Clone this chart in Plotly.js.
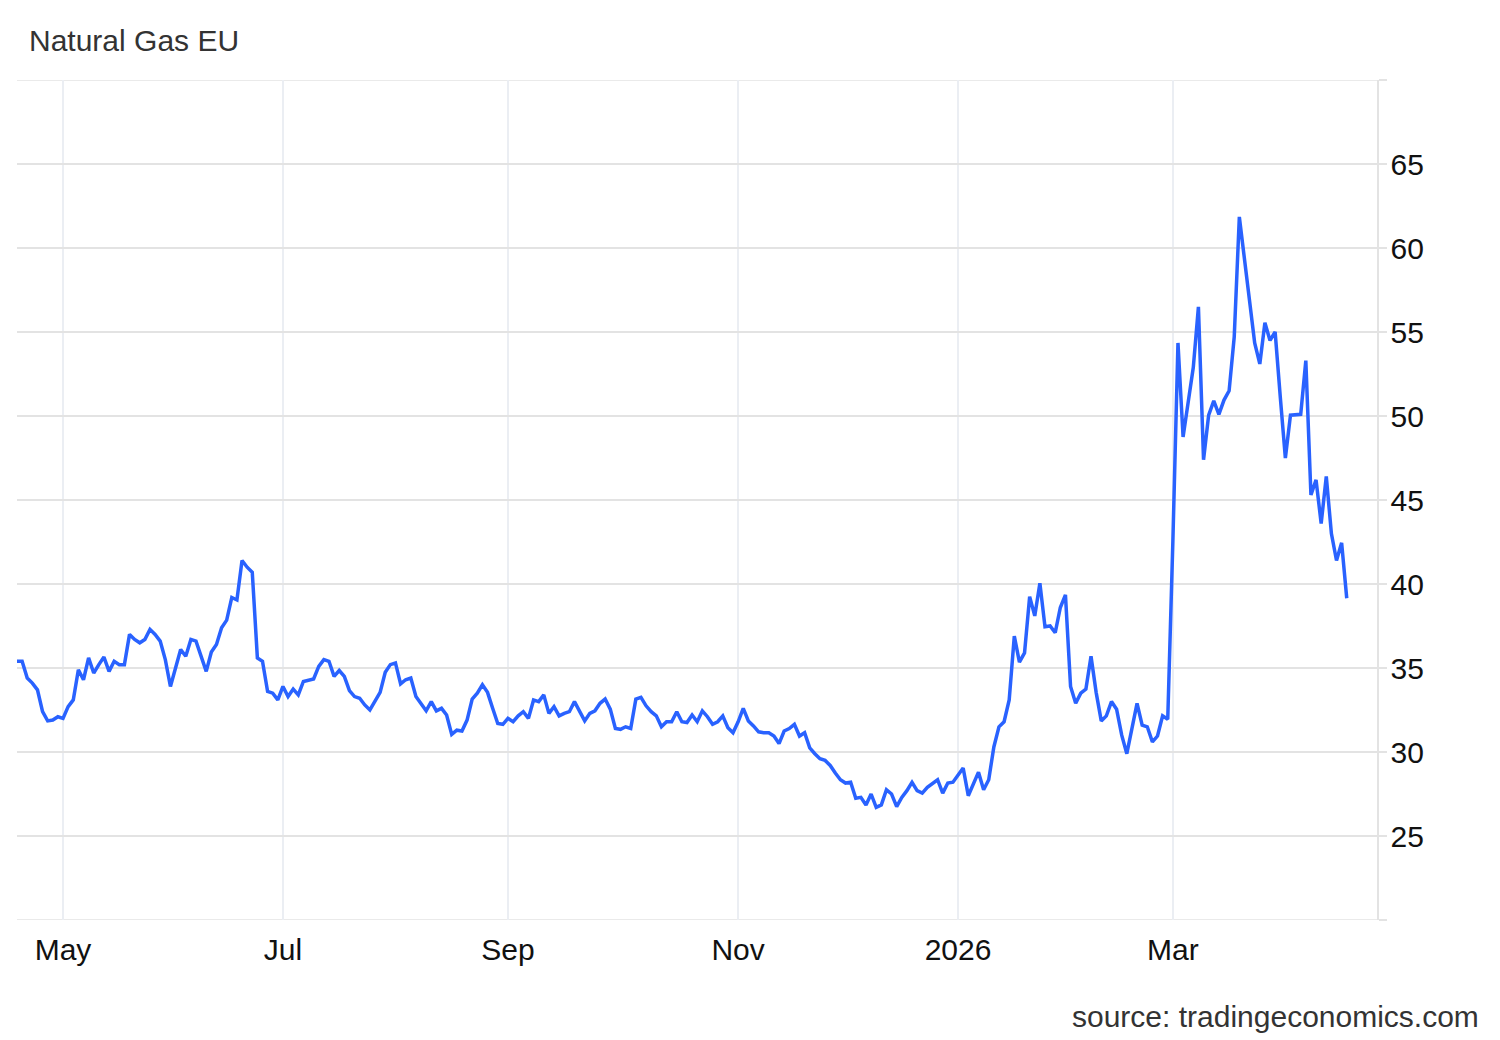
<!DOCTYPE html>
<html>
<head>
<meta charset="utf-8">
<script src="https://cdn.plot.ly/plotly-3.0.1.min.js"></script>
<style>
  html, body { margin: 0; padding: 0; background: #ffffff; }
  #chart { width: 1500px; height: 1040px; }
</style>
</head>
<body>
<div id="chart"></div>
<script>
// Trading days (weekdays)
const dates = [
  // Apr 2025
  '2025-04-18','2025-04-21','2025-04-22','2025-04-23','2025-04-24','2025-04-25','2025-04-28','2025-04-29','2025-04-30',
  // May
  '2025-05-01','2025-05-02','2025-05-05','2025-05-06','2025-05-07','2025-05-08','2025-05-09','2025-05-12','2025-05-13','2025-05-14','2025-05-15','2025-05-16','2025-05-19','2025-05-20','2025-05-21','2025-05-22','2025-05-23','2025-05-26','2025-05-27','2025-05-28','2025-05-29','2025-05-30',
  // Jun
  '2025-06-02','2025-06-03','2025-06-04','2025-06-05','2025-06-06','2025-06-09','2025-06-10','2025-06-11','2025-06-12','2025-06-13','2025-06-16','2025-06-17','2025-06-18','2025-06-19','2025-06-20','2025-06-23','2025-06-24','2025-06-25','2025-06-26','2025-06-27','2025-06-30',
  // Jul
  '2025-07-01','2025-07-02','2025-07-03','2025-07-04','2025-07-07','2025-07-08','2025-07-09','2025-07-10','2025-07-11','2025-07-14','2025-07-15','2025-07-16','2025-07-17','2025-07-18','2025-07-21','2025-07-22','2025-07-23','2025-07-24','2025-07-25','2025-07-28','2025-07-29','2025-07-30','2025-07-31',
  // Aug
  '2025-08-01','2025-08-04','2025-08-05','2025-08-06','2025-08-07','2025-08-08','2025-08-11','2025-08-12','2025-08-13','2025-08-14','2025-08-15','2025-08-18','2025-08-19','2025-08-20','2025-08-21','2025-08-22','2025-08-25','2025-08-26','2025-08-27','2025-08-28','2025-08-29',
  // Sep
  '2025-09-01','2025-09-02','2025-09-03','2025-09-04','2025-09-05','2025-09-08','2025-09-09','2025-09-10','2025-09-11','2025-09-12','2025-09-15','2025-09-16','2025-09-17','2025-09-18','2025-09-19','2025-09-22','2025-09-23','2025-09-24','2025-09-25','2025-09-26','2025-09-29','2025-09-30',
  // Oct
  '2025-10-01','2025-10-02','2025-10-03','2025-10-06','2025-10-07','2025-10-08','2025-10-09','2025-10-10','2025-10-13','2025-10-14','2025-10-15','2025-10-16','2025-10-17','2025-10-20','2025-10-21','2025-10-22','2025-10-23','2025-10-24','2025-10-27','2025-10-28','2025-10-29','2025-10-30','2025-10-31',
  // Nov
  '2025-11-03','2025-11-04','2025-11-05','2025-11-06','2025-11-07','2025-11-10','2025-11-11','2025-11-12','2025-11-13','2025-11-14','2025-11-17','2025-11-18','2025-11-19','2025-11-20','2025-11-21','2025-11-24','2025-11-25','2025-11-26','2025-11-27','2025-11-28',
  // Dec
  '2025-12-01','2025-12-02','2025-12-03','2025-12-04','2025-12-05','2025-12-08','2025-12-09','2025-12-10','2025-12-11','2025-12-12','2025-12-15','2025-12-16','2025-12-17','2025-12-18','2025-12-19','2025-12-22','2025-12-23','2025-12-24','2025-12-25','2025-12-26','2025-12-29','2025-12-30','2025-12-31',
  // Jan 2026
  '2026-01-02','2026-01-05','2026-01-06','2026-01-07','2026-01-08','2026-01-09','2026-01-12','2026-01-13','2026-01-14','2026-01-15','2026-01-16','2026-01-19','2026-01-20','2026-01-21','2026-01-22','2026-01-23','2026-01-26','2026-01-27','2026-01-28','2026-01-29','2026-01-30',
  // Feb
  '2026-02-02','2026-02-03','2026-02-04','2026-02-05','2026-02-06','2026-02-09','2026-02-10','2026-02-11','2026-02-12','2026-02-13','2026-02-16','2026-02-17','2026-02-18','2026-02-19','2026-02-20','2026-02-23','2026-02-24','2026-02-25','2026-02-26','2026-02-27',
  // Mar
  '2026-03-02','2026-03-03','2026-03-04','2026-03-05','2026-03-06','2026-03-09','2026-03-10','2026-03-11','2026-03-12','2026-03-13','2026-03-16','2026-03-17','2026-03-18','2026-03-19','2026-03-20','2026-03-23','2026-03-24','2026-03-25','2026-03-26','2026-03-27','2026-03-30','2026-03-31',
  // Apr
  '2026-04-01','2026-04-02','2026-04-03','2026-04-06','2026-04-07','2026-04-08','2026-04-09','2026-04-10','2026-04-13','2026-04-14','2026-04-15','2026-04-16','2026-04-17'
];

const prices = [
  // Apr 2025
  35.4, 35.4, 34.4, 34.1, 33.7, 32.4, 31.85, 31.9, 32.1,
  // May
  32.0, 32.7, 33.1, 34.9, 34.3, 35.6, 34.7, 35.2, 35.65, 34.8, 35.4, 35.2, 35.2, 37.0, 36.7, 36.5, 36.7, 37.3, 37.0, 36.6, 35.5, 33.9,
  // Jun
  35.0, 36.1, 35.7, 36.7, 36.6, 35.7, 34.8, 35.95, 36.4, 37.4, 37.85, 39.2, 39.05, 41.4, 41.0, 40.7, 35.6, 35.4, 33.6, 33.5, 33.1,
  // Jul
  33.9, 33.3, 33.75, 33.4, 34.2, 34.25, 34.35, 35.1, 35.5, 35.4, 34.5, 34.85, 34.5, 33.65, 33.3, 33.2, 32.8, 32.5, 33.05, 33.55, 34.75, 35.2, 35.3,
  // Aug
  34.05, 34.3, 34.4, 33.3, 32.9, 32.45, 33.0, 32.45, 32.6, 32.2, 31.05, 31.3, 31.25, 31.9, 33.15, 33.5, 34.0, 33.55, 32.6, 31.7, 31.65,
  // Sep
  32.0, 31.8, 32.15, 32.4, 32.0, 33.1, 33.0, 33.4, 32.3, 32.7, 32.15, 32.3, 32.4, 33.0, 32.4, 31.85, 32.3, 32.45, 32.9, 33.15, 32.55, 31.4,
  // Oct
  31.35, 31.5, 31.4, 33.15, 33.25, 32.75, 32.4, 32.15, 31.5, 31.8, 31.8, 32.4, 31.8, 31.75, 32.2, 31.8, 32.45, 32.1, 31.65, 31.8, 32.15, 31.45, 31.15,
  // Nov
  31.8, 32.6, 31.85, 31.55, 31.2, 31.15, 31.15, 30.95, 30.5, 31.25, 31.4, 31.65, 30.95, 31.15, 30.25, 29.9, 29.6, 29.5, 29.2, 28.75,
  // Dec
  28.35, 28.15, 28.2, 27.25, 27.3, 26.85, 27.5, 26.7, 26.85, 27.75, 27.5, 26.75, 27.3, 27.7, 28.2, 27.7, 27.55, 27.9, 28.1, 28.35, 27.55, 28.15, 28.2,
  // Jan 2026
  29.05, 27.4, 28.15, 28.8, 27.75, 28.35, 30.3, 31.5, 31.8, 33.1, 36.9, 35.35, 35.9, 39.25, 38.1, 40.05, 37.45, 37.5, 37.1, 38.6, 39.35,
  // Feb
  33.9, 32.9, 33.5, 33.75, 35.7, 33.55, 31.85, 32.15, 33.0, 32.55, 31.0, 29.9, 31.45, 32.9, 31.6, 31.5, 30.6, 30.95, 32.15, 31.95,
  // Mar
  42.5, 54.35, 48.75, 50.8, 52.9, 56.5, 47.4, 50.05, 50.9, 50.1, 50.95, 51.5, 54.7, 61.85, 59.45, 56.9, 54.35, 53.1, 55.55, 54.5, 55.0, 51.15,
  // Apr
  47.5, 50.05, 50.1, 50.1, 53.3, 45.3, 46.2, 43.6, 46.4, 43.0, 41.4, 42.45, 39.15
];

const xTickVals = ['2025-05-01', '2025-07-01', '2025-09-01', '2025-11-03', '2026-01-01', '2026-03-02'];
const xTickText = ['May', 'Jul', 'Sep', 'Nov', '2026', 'Mar'];
const yTickVals = [20, 25, 30, 35, 40, 45, 50, 55, 60, 65, 70];
const yTickText = ['', '25', '30', '35', '40', '45', '50', '55', '60', '65', ''];
const yEdges = [20, 70];

const FONT = '"Liberation Sans", Arial, Helvetica, sans-serif';
const GRID_H = '#e3e3e3';
const GRID_V = '#ebeef3';

const trace = {
  type: 'scatter',
  mode: 'lines',
  x: dates,
  y: prices,
  line: { color: '#2962ff', width: 3.5, shape: 'linear' },
  hoverinfo: 'x+y'
};

const edgeShapes = yEdges.map(v => ({
  type: 'line', xref: 'paper', yref: 'y',
  x0: 0, x1: 1, y0: v, y1: v,
  line: { color: GRID_H, width: 1.5 },
  layer: 'below'
}));

const layout = {
  width: 1500,
  height: 1040,
  paper_bgcolor: '#ffffff',
  plot_bgcolor: '#ffffff',
  font: { family: FONT, size: 30, color: '#111111' },
  margin: { l: 17, r: 123, t: 80, b: 120, pad: 0 },
  showlegend: false,
  title: {
    text: 'Natural Gas EU',
    xref: 'container', yref: 'container',
    x: 29 / 1500, xanchor: 'left',
    y: 1 - 40 / 1040, yanchor: 'middle',
    font: { family: FONT, size: 30, color: '#333333' }
  },
  xaxis: {
    type: 'date',
    range: ['2025-04-18', '2026-04-24 22:00'],
    rangebreaks: [{ bounds: ['sat', 'mon'] }],
    tickmode: 'array',
    tickvals: xTickVals,
    ticktext: xTickText,
    showgrid: true,
    gridcolor: GRID_V,
    gridwidth: 1.5,
    showline: false,
    zeroline: false,
    ticks: '',
    ticklabelstandoff: 9,
    tickfont: { family: FONT, size: 30, color: '#111111' },
    automargin: false,
    fixedrange: true
  },
  yaxis: {
    side: 'right',
    range: [20, 70],
    tickmode: 'array',
    tickvals: yTickVals,
    ticktext: yTickText,
    showgrid: true,
    gridcolor: GRID_H,
    gridwidth: 1.5,
    showline: true,
    linecolor: GRID_H,
    linewidth: 1.5,
    zeroline: false,
    ticks: 'outside',
    ticklen: 8,
    tickcolor: GRID_H,
    tickwidth: 1.5,
    ticklabelstandoff: -2,
    tickfont: { family: FONT, size: 30, color: '#111111' },
    automargin: false,
    fixedrange: true
  },
  shapes: edgeShapes,
  annotations: [{
    text: 'source: tradingeconomics.com',
    xref: 'paper', yref: 'paper',
    x: (1481 - 17) / 1360, xanchor: 'right',
    y: -(1016 - 920) / 840, yanchor: 'middle',
    showarrow: false,
    font: { family: FONT, size: 30, color: '#333333' }
  }]
};

Plotly.newPlot('chart', [trace], layout, { displayModeBar: false, staticPlot: true });
</script>
</body>
</html>
